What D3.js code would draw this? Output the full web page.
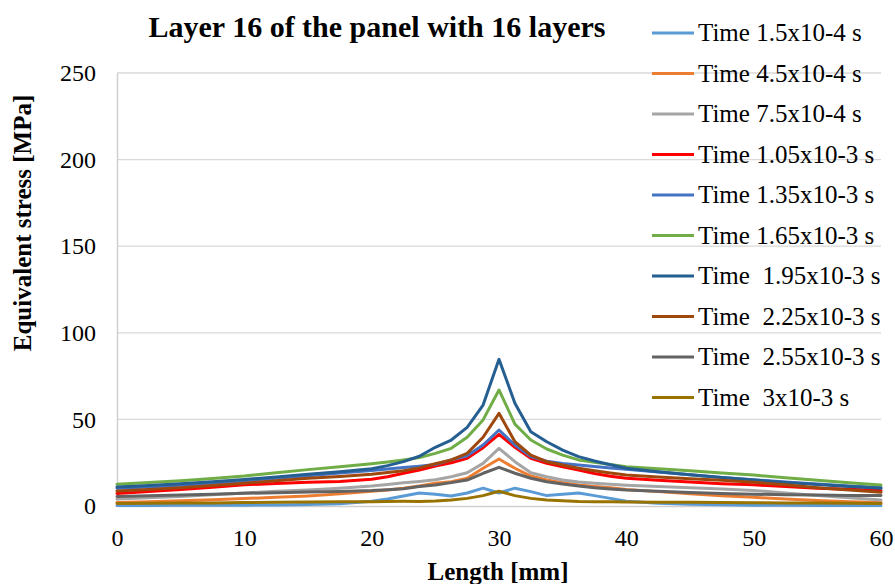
<!DOCTYPE html>
<html><head><meta charset="utf-8">
<script src="https://cdn.jsdelivr.net/npm/d3@7"></script>
<style>body{margin:0;background:#fff}svg{display:block}text{font-family:"Liberation Serif","Times New Roman",serif}</style>
</head><body><svg id="c" width="895" height="584"></svg>
<script>
const lengths = [0, 2.5, 5, 7.5, 10, 12.5, 15, 17.5, 20, 21.25, 22.5, 23.75, 25, 26.25, 27.5, 28.75, 30, 31.25, 32.5, 33.75, 35, 36.25, 37.5, 38.75, 40, 42.5, 45, 47.5, 50, 52.5, 55, 57.5, 60];
const seriesNames = ["Time 1.5x10-4 s","Time 4.5x10-4 s","Time 7.5x10-4 s","Time 1.05x10-3 s","Time 1.35x10-3 s","Time 1.65x10-3 s","Time  1.95x10-3 s","Time  2.25x10-3 s","Time  2.55x10-3 s","Time  3x10-3 s"];
const seriesColors = ["#5B9BD5","#ED7D31","#A5A5A5","#FF0000","#4472C4","#70AD47","#255E91","#9E480E","#636363","#997300"];
const t150 = [0.3,0.3,0.4,0.4,0.5,0.6,0.8,1.3,2.8,4,5.8,7.5,6.8,5.8,7.5,10.3,7.5,10.3,8.3,6,6.8,7.5,6,4.4,2.8,1.6,1,0.7,0.5,0.4,0.3,0.3,0.3];
const t450 = [2,2.5,3,3.6,4.3,5,5.8,7,8.5,9.3,10.2,11.5,13.1,14,16,21.8,27.1,21.8,17.3,15,13.5,12.1,11.2,10.5,9.5,8.3,7,5.9,5,4,3.2,2.5,2];
const t750 = [4,4.7,5.5,6.5,7.5,8.5,9.3,10.2,11.5,12.4,13.4,14.2,15.2,16.9,19.2,24.6,33.3,25.6,19.2,16.9,15,13.9,13.1,12.5,12,11.2,10.5,9.8,9,7.5,6,4.7,3.5];
const t1050 = [7.2,8.3,9.5,10.8,12.2,13,13.7,14.1,15.4,16.9,18.9,20.8,23,25,27.5,33.7,41.4,33.9,27.5,24.6,22.7,20.8,18.8,17.2,16,14.8,13.8,12.9,12.2,11.2,10.3,9.6,9];
const t1350 = [10.2,11,12,13.2,14.6,16,17.5,19,20.5,21.3,22.2,23,24,26.6,29,35.2,43.9,35.2,28.5,25.8,24.6,23.7,22.8,22,21.2,19.6,18,16.5,15.2,13.9,12.7,11.6,10.7];
const t1650 = [12.5,13.5,14.6,15.9,17.3,19.2,21,22.7,24.4,25.4,26.6,28,30.4,33.3,39.7,49.7,67,47.3,38.1,32.9,29.4,26.6,25.3,24,22.7,21.5,20.3,19,17.9,16.3,14.8,13.4,12.1];
const t1950 = [11,11.8,12.8,14,15.3,16.8,18.3,19.8,21.5,23.3,25.6,28.7,33.9,38.1,45.4,58.3,84.7,59.3,42.9,37.1,32.3,28.5,26,23.8,21.8,19.8,18,16.4,15,13.6,12.4,11.2,10.2];
const t2250 = [8.6,9.5,10.6,11.8,13.2,14.6,16,17,18.3,19.3,20.4,22,24.4,26.6,30.4,39.7,53.5,37.1,29.4,25.6,23.7,21.8,20.3,19,17.9,16.8,15.8,14.8,13.7,12.2,10.6,9.2,7.9];
const t2550 = [5.5,5.9,6.3,6.8,7.3,7.7,8.1,8.4,8.9,9.4,10,11.2,12.1,13.5,15,18.9,22.3,18.9,16,14,12.7,11.5,10.5,9.8,9.2,8.5,7.8,7.2,6.8,6.5,6.3,6.1,6];
const t3000 = [1.5,1.6,1.7,1.8,2,2.1,2.3,2.4,2.5,2.6,2.7,2.6,2.9,3.5,4.4,6,8.5,6,4.4,3.5,3.1,2.6,2.5,2.4,2.3,2.2,2.1,2,1.9,1.8,1.7,1.6,1.5];
const seriesValues = [t150,t450,t750,t1050,t1350,t1650,t1950,t2250,t2550,t3000];
const xTicks = [0,10,20,30,40,50,60];
const yTicks = [0,50,100,150,200,250];

const svg = d3.select("#c");
const x = d3.scaleLinear().domain([0,60]).range([117,881]);
const y = d3.scaleLinear().domain([0,250]).range([506,73]);

// gridlines
svg.append("g").selectAll("line").data(yTicks.filter(d=>d>0)).join("line")
  .attr("x1",x(0)).attr("x2",x(60)).attr("y1",d=>y(d)).attr("y2",d=>y(d))
  .attr("stroke","#d9d9d9").attr("stroke-width",1.3);

// axes
const xAxis = svg.append("g").attr("transform",`translate(0,${y(0)})`)
  .call(d3.axisBottom(x).tickValues(xTicks).tickSize(0).tickPadding(23));
const yAxis = svg.append("g").attr("transform",`translate(${x(0)},0)`)
  .call(d3.axisLeft(y).tickValues(yTicks).tickSize(0).tickPadding(21));
[xAxis,yAxis].forEach(a=>{
  a.select(".domain").attr("stroke","#d0d0d0").attr("stroke-width",1.5);
  a.selectAll("text").attr("font-size",24).attr("fill","#000").attr("font-family","Liberation Serif");
});

// lines
const line = d3.line().x((d,i)=>x(lengths[i])).y(d=>y(d));
svg.append("g").selectAll("path").data(seriesValues).join("path")
  .attr("d",line).attr("fill","none")
  .attr("stroke",(d,i)=>seriesColors[i]).attr("stroke-width",3)
  .attr("stroke-linejoin","round").attr("stroke-linecap","round");

// titles
svg.append("text").attr("x",377).attr("y",37).attr("text-anchor","middle")
  .attr("font-size",30).attr("font-weight","bold").text("Layer 16 of the panel with 16 layers");
svg.append("text").attr("x",498).attr("y",580).attr("text-anchor","middle")
  .attr("font-size",25).attr("font-weight","bold").text("Length [mm]");
svg.append("text").attr("transform","translate(31,223) rotate(-90)").attr("text-anchor","middle")
  .attr("font-size",25).attr("font-weight","bold").text("Equivalent stress [MPa]");

// legend
const lg = svg.append("g").selectAll("g").data(seriesNames).join("g")
  .attr("transform",(d,i)=>`translate(652,${33+40.5*i})`);
lg.append("line").attr("x1",0).attr("x2",42).attr("y1",0).attr("y2",0)
  .attr("stroke",(d,i)=>seriesColors[i]).attr("stroke-width",3);
lg.append("text").attr("x",46).attr("y",8).attr("font-size",25)
  .style("white-space","pre").attr("xml:space","preserve").text(d=>d);
</script></body></html>
